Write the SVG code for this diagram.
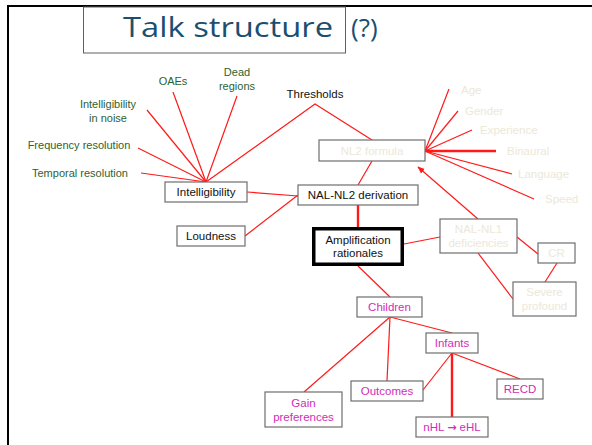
<svg xmlns="http://www.w3.org/2000/svg" width="592" height="445" viewBox="0 0 592 445">
<defs>
<style>
.box{fill:#fff;stroke:#6e6e6e;stroke-width:1.2}
.t{font-family:"Liberation Sans",Arial,sans-serif;font-size:11.5px;text-anchor:middle}
.blk{fill:#111}
.mag{fill:#d22cb8}
.fad{fill:#ece8d8}
.grn{font-family:"Liberation Sans",Arial,sans-serif;font-size:11px;fill:#2f5f2f;text-anchor:middle}
.fl{font-family:"Liberation Sans",Arial,sans-serif;font-size:11.5px;fill:#ece8d8}
.c line,.c polyline{stroke:#ff1a1a;stroke-width:1.2;fill:none}
.c .thick{stroke-width:2.4}
</style>
<marker id="ah" viewBox="0 0 10 10" refX="9" refY="5" markerWidth="6" markerHeight="6" orient="auto">
<path d="M0,1 L10,5 L0,9 z" fill="#ff1a1a"/>
</marker>
</defs>
<rect width="592" height="445" fill="#fff"/>
<g id="frame">
<line x1="8" y1="6" x2="592" y2="6" stroke="#000" stroke-width="2"/>
<line x1="8" y1="5" x2="8" y2="445" stroke="#000" stroke-width="2"/>
</g>
<g id="title">
<rect x="83.5" y="7" width="262" height="46" fill="#fff" stroke="#606060" stroke-width="1"/>
<text x="123" y="37" font-family="'Open Sans','Noto Sans',sans-serif" font-size="28" fill="#1b4f70" textLength="210" lengthAdjust="spacingAndGlyphs">Talk structure</text>
<text x="351" y="37" font-family="'Open Sans','Noto Sans',sans-serif" font-size="26" fill="#1b4f70">(?)</text>
</g>
<g class="c" id="connectors">
<line x1="206" y1="182" x2="141" y2="173"/>
<line x1="206" y1="182" x2="138" y2="148"/>
<line x1="206" y1="182" x2="147" y2="110"/>
<line x1="206" y1="182" x2="173" y2="92"/>
<line x1="206" y1="182" x2="237" y2="96"/>
<polyline points="206,182 315,104 372,140"/>
<line x1="247" y1="192" x2="298" y2="196"/>
<line x1="245" y1="236" x2="298" y2="195"/>
<line x1="372" y1="161" x2="358" y2="185"/>
<line class="thick" x1="358" y1="205" x2="358" y2="227"/>
<line x1="404" y1="244" x2="440" y2="237"/>
<line x1="425" y1="151" x2="449" y2="89"/>
<line x1="425" y1="151" x2="458" y2="111"/>
<line x1="425" y1="151" x2="472" y2="130"/>
<line class="thick" x1="425" y1="151" x2="496" y2="151"/>
<line x1="425" y1="151" x2="512" y2="174"/>
<line x1="425" y1="151" x2="534" y2="199"/>
<line x1="478" y1="219" x2="418" y2="167" marker-end="url(#ah)"/>
<line x1="517" y1="237" x2="538" y2="254"/>
<line x1="557" y1="263" x2="545" y2="282"/>
<line x1="478" y1="253" x2="513" y2="299"/>
<line x1="358" y1="266" x2="390" y2="297"/>
<line x1="390" y1="317" x2="304" y2="392"/>
<line x1="390" y1="317" x2="387" y2="381"/>
<line x1="390" y1="317" x2="452" y2="333"/>
<line x1="452" y1="353" x2="423" y2="390"/>
<line class="thick" x1="452" y1="353" x2="452" y2="417"/>
<line x1="452" y1="353" x2="520" y2="379"/>
</g>
<g id="labels-green">
<text class="grn" x="173" y="85">OAEs</text>
<text class="grn" x="237" y="76">Dead</text>
<text class="grn" x="237" y="90">regions</text>
<text class="grn" x="108" y="108">Intelligibility</text>
<text class="grn" x="108" y="122">in noise</text>
<text class="grn" x="79" y="149">Frequency resolution</text>
<text class="grn" x="80" y="177">Temporal resolution</text>
</g>
<g id="thresholds"><text class="t blk" x="315" y="98">Thresholds</text></g>
<g id="labels-faded">
<text class="fl" x="461" y="94">Age</text>
<text class="fl" x="465" y="115">Gender</text>
<text class="fl" x="480" y="134">Experience</text>
<text class="fl" x="507" y="155">Binaural</text>
<text class="fl" x="518" y="178">Language</text>
<text class="fl" x="545" y="203">Speed</text>
</g>
<g id="intelligibility"><rect class="box" x="165" y="182" width="82" height="20"/><text class="t blk" x="206" y="196">Intelligibility</text></g>
<g id="loudness"><rect class="box" x="177" y="226" width="68" height="20"/><text class="t blk" x="211" y="240">Loudness</text></g>
<g id="nal-nl2"><rect class="box" x="298" y="185" width="120" height="20"/><text class="t blk" x="358" y="199">NAL-NL2 derivation</text></g>
<g id="amplification"><rect x="313.75" y="228.75" width="88.5" height="35.5" fill="#fff" stroke="#000" stroke-width="3.5"/><text class="t blk" x="358" y="244">Amplification</text><text class="t blk" x="358" y="257">rationales</text></g>
<g id="nl2-formula"><rect class="box" x="319" y="140" width="106" height="21"/><text class="t fad" x="372" y="155">NL2 formula</text></g>
<g id="nal-nl1"><rect class="box" x="440" y="219" width="77" height="34"/><text class="t fad" x="478.5" y="233">NAL-NL1</text><text class="t fad" x="478.5" y="247">deficiencies</text></g>
<g id="cr"><rect class="box" x="538" y="243" width="37" height="20"/><text class="t fad" x="556.5" y="257">CR</text></g>
<g id="severe"><rect class="box" x="513" y="282" width="63" height="34"/><text class="t fad" x="544.5" y="296">Severe</text><text class="t fad" x="544.5" y="310">profound</text></g>
<g id="children"><rect class="box" x="357" y="297" width="65" height="20"/><text class="t mag" x="389.5" y="311">Children</text></g>
<g id="infants"><rect class="box" x="426" y="333" width="52" height="20"/><text class="t mag" x="452" y="347">Infants</text></g>
<g id="outcomes"><rect class="box" x="351" y="381" width="72" height="20"/><text class="t mag" x="387" y="395">Outcomes</text></g>
<g id="recd"><rect class="box" x="497" y="379" width="46" height="20"/><text class="t mag" x="520" y="393">RECD</text></g>
<g id="gain"><rect class="box" x="265" y="392" width="77" height="35"/><text class="t mag" x="303.5" y="407">Gain</text><text class="t mag" x="303.5" y="421">preferences</text></g>
<g id="nhl"><rect class="box" x="416" y="417" width="72" height="20"/><text class="t mag" x="452" y="431">nHL <tspan font-family="'DejaVu Sans',sans-serif" font-weight="bold" font-size="11">→</tspan> eHL</text></g>
</svg>
